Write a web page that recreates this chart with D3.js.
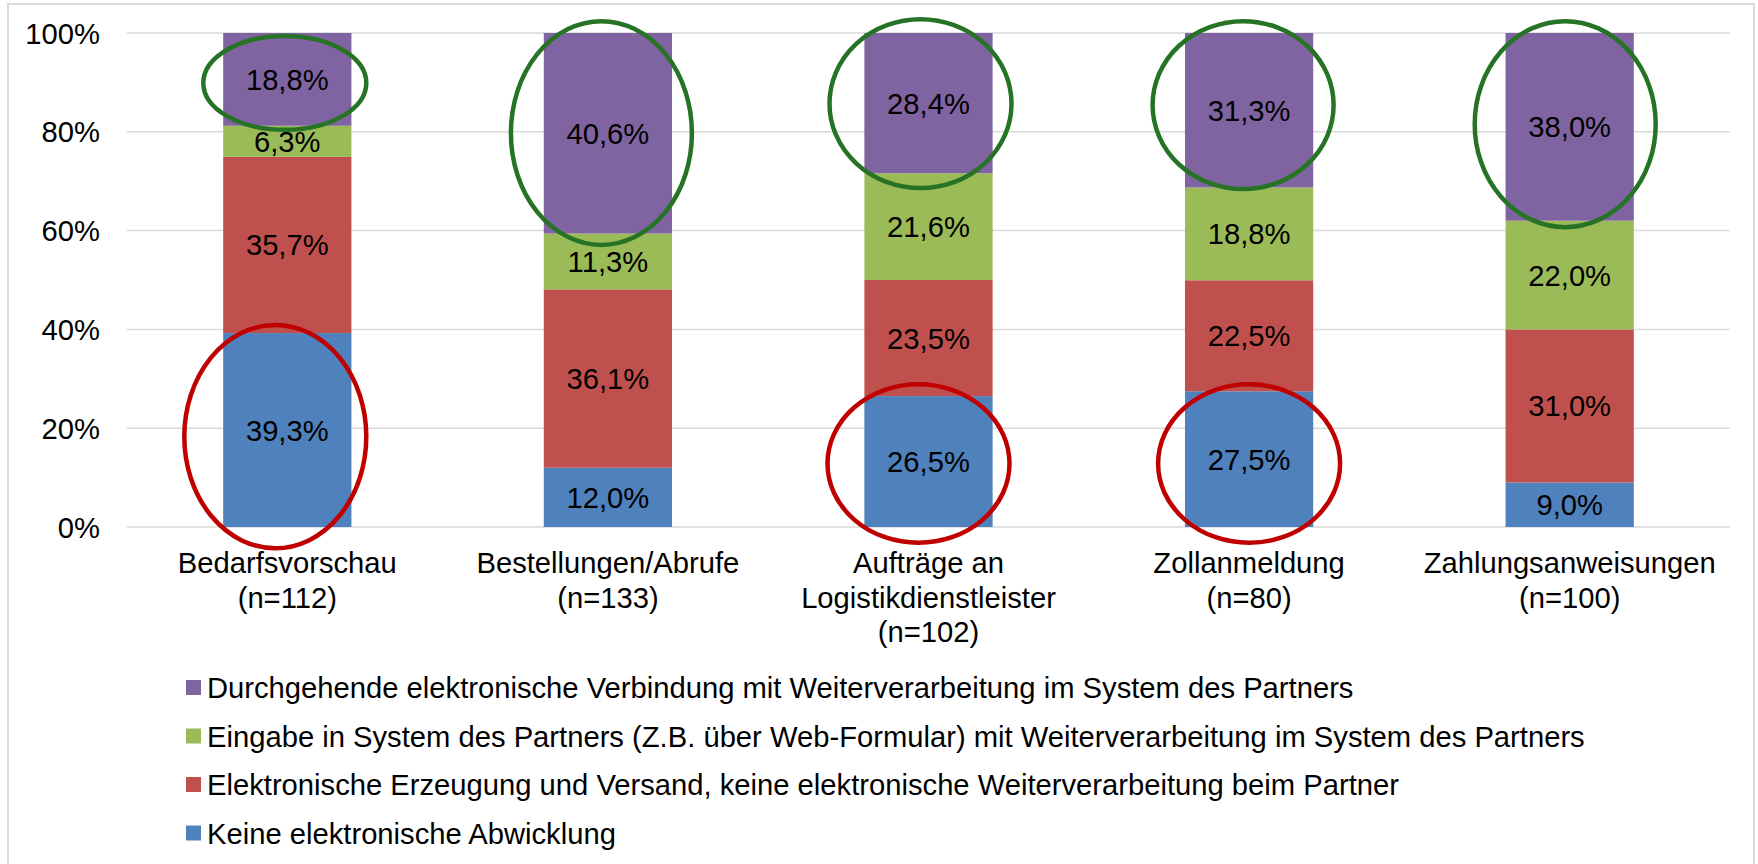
<!DOCTYPE html>
<html lang="de">
<head>
<meta charset="UTF-8">
<title>Elektronische Abwicklung</title>
<script src="https://d3js.org/d3.v7.min.js"></script>
<style>
    body { margin: 0; background: #fff; }
    svg { display: block; font-family: "Liberation Sans", Arial, sans-serif; }
    .grid line { stroke: #d9d9d9; stroke-width: 1.5px; }
    .tick-label { font-size: 29.2px; fill: #000; }
    .bar-label { font-size: 29.2px; fill: #000; text-anchor: middle; }
    .cat-label { font-size: 29.2px; fill: #000; text-anchor: middle; }
    .legend-label { font-size: 29.2px; fill: #000; }
</style>
</head>
<body>
<div id="chart"></div>
<script>
    // Kategorien (mehrzeilige Achsenbeschriftung)
    const categories = ["Bedarfsvorschau", "Bestellungen/Abrufe", "Aufträge an Logistikdienstleister", "Zollanmeldung", "Zahlungsanweisungen"];
    const categoryLines = [
        ["Bedarfsvorschau", "(n=112)"],
        ["Bestellungen/Abrufe", "(n=133)"],
        ["Aufträge an", "Logistikdienstleister", "(n=102)"],
        ["Zollanmeldung", "(n=80)"],
        ["Zahlungsanweisungen", "(n=100)"]
    ];

    // Serien von unten nach oben (Prozent)
    const keine = [39.3, 12.0, 26.5, 27.5, 9.0];
    const versand = [35.7, 36.1, 23.5, 22.5, 31.0];
    const eingabe = [6.3, 11.3, 21.6, 18.8, 22.0];
    const durchgehend = [18.8, 40.6, 28.4, 31.3, 38.0];

    const seriesNames = [
        "Keine elektronische Abwicklung",
        "Elektronische Erzeugung und Versand, keine elektronische Weiterverarbeitung beim Partner",
        "Eingabe in System des Partners (Z.B. über Web-Formular) mit Weiterverarbeitung im System des Partners",
        "Durchgehende elektronische Verbindung mit Weiterverarbeitung im System des Partners"
    ];
    const seriesValues = [keine, versand, eingabe, durchgehend];
    const seriesColors = ["#4f81bd", "#c0504d", "#9bbb59", "#8064a2"];

    const yTicks = [0, 0.2, 0.4, 0.6, 0.8, 1.0];

    // Markierungen (Ellipsen): Kategorie, Wertebereich
    const annotations = [
        { cat: 0, top: 0.994, bottom: 0.804, color: "green" },
        { cat: 1, top: 1.024, bottom: 0.571, color: "green" },
        { cat: 2, top: 1.028, bottom: 0.686, color: "green" },
        { cat: 3, top: 1.024, bottom: 0.684, color: "green" },
        { cat: 4, top: 1.024, bottom: 0.607, color: "green" },
        { cat: 0, top: 0.409, bottom: -0.043, color: "red" },
        { cat: 2, top: 0.289, bottom: -0.032, color: "red" },
        { cat: 3, top: 0.289, bottom: -0.032, color: "red" }
    ];
    const annoShape = [
        { dx: -2.5, rx: 81.5 }, { dx: -6.5, rx: 90.5 }, { dx: -8, rx: 91 }, { dx: -6, rx: 90.5 },
        { dx: -4.5, rx: 90.5 }, { dx: -12, rx: 91 }, { dx: -10, rx: 91 }, { dx: 0, rx: 91 }
    ];
    const annoColors = { green: "#267326", red: "#c00000" };

    const width = 1758, height = 864;
    const svg = d3.select("#chart").append("svg")
        .attr("width", width)
        .attr("height", height);

    // Rahmen
    svg.append("rect")
        .attr("x", 8).attr("y", 4)
        .attr("width", 1746).attr("height", 880)
        .attr("fill", "none")
        .attr("stroke", "#d9d9d9")
        .attr("stroke-width", 2);

    const x = d3.scaleBand()
        .domain(categories)
        .range([127, 1730])
        .paddingInner(0.6)
        .paddingOuter(0.3);

    const y = d3.scaleLinear()
        .domain([0, 1])
        .range([527, 33]);

    // Gitterlinien
    svg.append("g")
        .attr("class", "grid")
        .selectAll("line")
        .data(yTicks)
        .enter().append("line")
        .attr("x1", 127).attr("x2", 1730)
        .attr("y1", d => y(d)).attr("y2", d => y(d));

    // Y-Achse
    svg.append("g")
        .selectAll("text")
        .data(yTicks)
        .enter().append("text")
        .attr("class", "tick-label")
        .attr("x", 100)
        .attr("y", d => y(d))
        .attr("dy", "0.36em")
        .attr("text-anchor", "end")
        .text(d => d3.format(".0%")(d));

    // gestapelte Daten (normiert auf 100%)
    const rows = categories.map((c, i) => {
        const total = d3.sum(seriesValues, s => s[i]);
        let acc = 0;
        return seriesValues.map((s, k) => {
            const y0 = acc / total;
            acc += s[i];
            return { cat: c, k: k, value: s[i], y0: y0, y1: acc / total };
        });
    });
    const segments = rows.flat();

    svg.append("g")
        .selectAll("rect")
        .data(segments)
        .enter().append("rect")
        .attr("x", d => x(d.cat))
        .attr("width", x.bandwidth())
        .attr("y", d => y(d.y1))
        .attr("height", d => y(d.y0) - y(d.y1))
        .attr("fill", d => seriesColors[d.k]);

    const fmt = v => v.toFixed(1).replace(".", ",") + "%";
    svg.append("g")
        .selectAll("text")
        .data(segments)
        .enter().append("text")
        .attr("class", "bar-label")
        .attr("x", d => x(d.cat) + x.bandwidth() / 2)
        .attr("y", d => (y(d.y0) + y(d.y1)) / 2)
        .attr("dy", "0.36em")
        .text(d => fmt(d.value));

    // Kategorienbeschriftung
    const catG = svg.append("g")
        .selectAll("text")
        .data(categories)
        .enter().append("text")
        .attr("class", "cat-label")
        .attr("y", 573);
    catG.selectAll("tspan")
        .data((d, i) => categoryLines[i].map(t => ({ t: t, c: d })))
        .enter().append("tspan")
        .attr("x", d => x(d.c) + x.bandwidth() / 2)
        .attr("dy", (d, i) => i === 0 ? 0 : 34.5)
        .text(d => d.t);

    // Ellipsen
    svg.append("g")
        .selectAll("ellipse")
        .data(annotations)
        .enter().append("ellipse")
        .attr("cx", (d, i) => x(categories[d.cat]) + x.bandwidth() / 2 + annoShape[i].dx)
        .attr("cy", d => (y(d.top) + y(d.bottom)) / 2)
        .attr("rx", (d, i) => annoShape[i].rx)
        .attr("ry", d => (y(d.bottom) - y(d.top)) / 2)
        .attr("fill", "none")
        .attr("stroke", d => annoColors[d.color])
        .attr("stroke-width", 4.5);

    // Legende (oberster Eintrag zuerst)
    const legendOrder = [3, 2, 1, 0];
    const legend = svg.append("g")
        .selectAll("g")
        .data(legendOrder)
        .enter().append("g")
        .attr("transform", (d, i) => `translate(186, ${687.5 + i * 48.5})`);
    legend.append("rect")
        .attr("x", 0).attr("y", -7.5)
        .attr("width", 15).attr("height", 15)
        .attr("fill", d => seriesColors[d]);
    legend.append("text")
        .attr("class", "legend-label")
        .attr("x", 21)
        .attr("dy", "0.36em")
        .text(d => seriesNames[d]);
</script>
</body>
</html>
